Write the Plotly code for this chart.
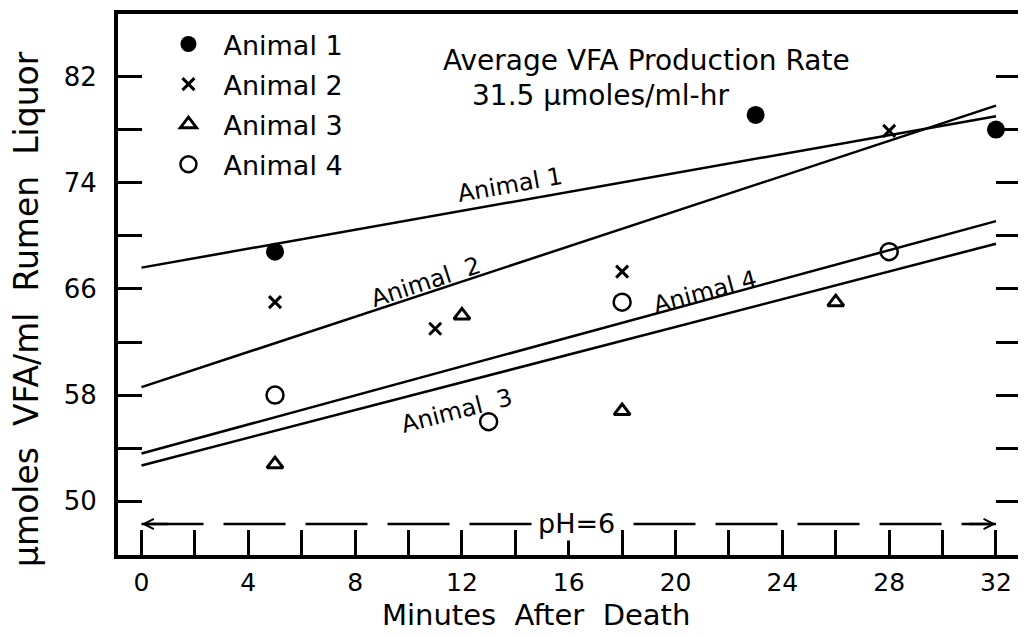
import plotly.graph_objects as go

FONT = "DejaVu Sans"

# ---- data ----
animals = ["Animal 1", "Animal 2", "Animal 3", "Animal 4"]
a1_x = [5, 23, 32]
a1_y = [68.8, 79.1, 78.0]
a2_x = [5, 11, 18, 28]
a2_y = [65.0, 63.0, 67.3, 77.9]
a3_x = [5, 12, 18, 26]
a3_y = [52.8, 64.0, 56.8, 65.0]
a4_x = [5, 13, 18, 28]
a4_y = [58.0, 56.0, 65.0, 68.8]

fit_x = [0, 32]
fit1_y = [67.6, 79.0]
fit2_y = [58.6, 79.8]
fit3_y = [52.7, 69.4]
fit4_y = [53.6, 71.1]

ph_x = [0, 32]
ph_y = [48.3, 48.3]

x_tickvals = list(range(0, 33, 2))
x_ticktext = [str(v) if v % 4 == 0 else "" for v in x_tickvals]
y_tickvals = list(range(50, 83, 4))
y_ticktext = [str(v) if (v - 50) % 8 == 0 else "" for v in y_tickvals]

fig = go.Figure()

# regression lines
for fy in [fit1_y, fit2_y, fit3_y, fit4_y]:
    fig.add_trace(go.Scatter(x=fit_x, y=fy, mode="lines",
                             line=dict(color="black", width=2.5),
                             showlegend=False, hoverinfo="skip"))

# pH dashed line
fig.add_trace(go.Scatter(x=ph_x, y=ph_y, mode="lines",
                         line=dict(color="black", width=2.5, dash="62px,20px"),
                         showlegend=False, hoverinfo="skip"))

# data points
fig.add_trace(go.Scatter(x=a1_x, y=a1_y, mode="markers", name=animals[0], legendgroup="1",
                         marker=dict(symbol="circle", size=18, color="black")))
fig.add_trace(go.Scatter(x=a2_x, y=a2_y, mode="markers", name=animals[1], legendgroup="2",
                         marker=dict(symbol="x-thin", size=12, color="black",
                                     line=dict(color="black", width=3))))
fig.add_trace(go.Scatter(x=a3_x, y=a3_y, mode="markers", name=animals[2], legendgroup="3",
                         marker=dict(symbol="triangle-up-open", size=14, color="black",
                                     line=dict(color="black", width=3))))
fig.add_trace(go.Scatter(x=a4_x, y=a4_y, mode="markers", name=animals[3], legendgroup="4",
                         marker=dict(symbol="circle-open", size=17, color="black",
                                     line=dict(color="black", width=2.5))))

ann = []
# line labels
labels = [("Animal 1", 13.8, 73.85, -10),
          ("Animal  2", 10.65, 66.5, -18),
          ("Animal  3", 11.8, 56.8, -14.5),
          ("Animal 4", 21.1, 65.8, -15)]
for t, x, y, a in labels:
    ann.append(dict(x=x, y=y, text=t, showarrow=False, textangle=a,
                    font=dict(family=FONT, size=24, color="black")))

ann.append(dict(x=11.2, y=83.2, text="Average VFA Production Rate", xanchor="left",
                yanchor="middle", showarrow=False,
                font=dict(family=FONT, size=28, color="black")))
ann.append(dict(x=12.3, y=80.6, text="31.5 μmoles/ml-hr", xanchor="left",
                yanchor="middle", showarrow=False,
                font=dict(family=FONT, size=28, color="black")))
ann.append(dict(x=16.3, y=ph_y[0], text="pH=6", showarrow=False, bgcolor="white",
                font=dict(family=FONT, size=27, color="black")))
# arrowheads of pH range
ann.append(dict(x=ph_x[0], y=ph_y[0], ax=28, ay=0, text="", showarrow=True,
                arrowhead=5, arrowsize=0.8, arrowwidth=2.5, arrowcolor="black"))
ann.append(dict(x=ph_x[1], y=ph_y[1], ax=-28, ay=0, text="", showarrow=True,
                arrowhead=5, arrowsize=0.8, arrowwidth=2.5, arrowcolor="black"))

# axis titles
ann.append(dict(xref="paper", yref="paper", x=0.4635, y=-0.111, xanchor="center",
                yanchor="middle", text="Minutes  After  Death",
                showarrow=False, font=dict(family=FONT, size=29, color="black")))
ann.append(dict(xref="paper", yref="paper", x=-0.1007, y=0.455, xanchor="center",
                yanchor="middle", textangle=-90,
                text="μmoles  VFA/ml  Rumen  Liquor",
                showarrow=False, font=dict(family=FONT, size=33, color="black")))

# the page body has an 8px default margin, so the figure is offset by 8px
fig.update_layout(
    width=1018, height=629,
    margin=dict(l=110, r=4, t=2, b=82),
    paper_bgcolor="white", plot_bgcolor="white",
    font=dict(family=FONT, size=25, color="black"),
    annotations=ann,
    legend=dict(x=0.0393, y=0.989, xanchor="left", yanchor="top", itemwidth=60,
                font=dict(family=FONT, size=27, color="black"),
                traceorder="grouped", tracegroupgap=2, bgcolor="rgba(0,0,0,0)"),
    xaxis=dict(range=[-0.88, 32.9], tickmode="array", tickvals=x_tickvals, ticktext=x_ticktext,
               ticks="inside", ticklen=25, tickwidth=2.5, tickcolor="black",
               showline=True, linewidth=4, linecolor="black", mirror=True,
               showgrid=False, zeroline=False, ticklabelstandoff=2,
               tickfont=dict(family=FONT, size=25, color="black")),
    yaxis=dict(range=[45.96, 86.7], tickmode="array", tickvals=y_tickvals, ticktext=y_ticktext,
               ticks="inside", ticklen=24, tickwidth=2.5, tickcolor="black",
               showline=True, linewidth=4, linecolor="black", mirror="ticks",
               showgrid=False, zeroline=False, ticklabelstandoff=12,
               tickfont=dict(family=FONT, size=26, color="black")),
)

fig.write_html("out.html")
